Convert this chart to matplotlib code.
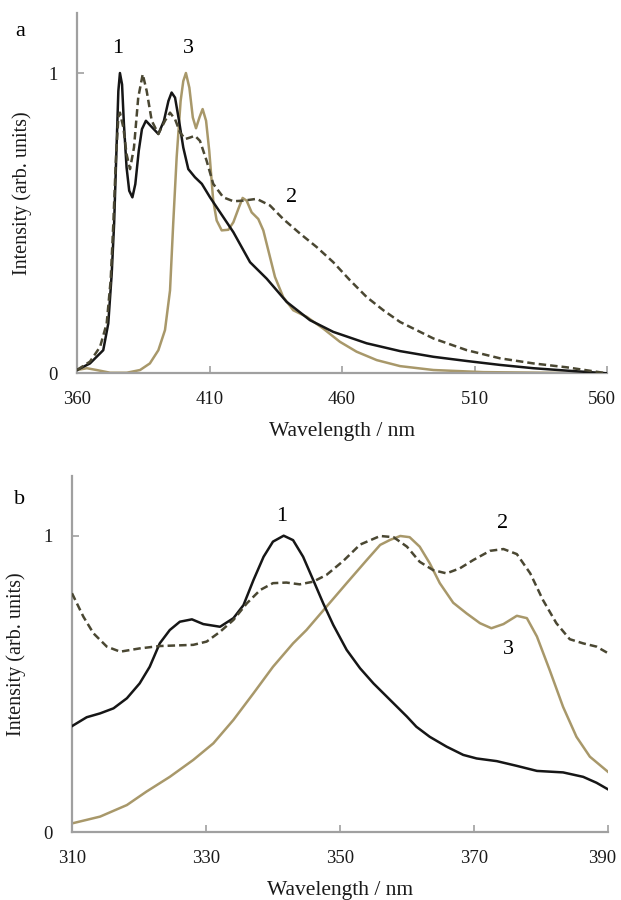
import matplotlib

matplotlib.use("Agg")
import matplotlib.pyplot as plt
from matplotlib.transforms import ScaledTranslation

# panel a: emission spectra (wavelength nm, normalised intensity)
a1_wl = [360, 364.9, 369.9, 371.8, 373.1, 374.0, 375.0, 375.6, 376.2, 377.0, 377.7, 378.7, 379.7, 380.9,
         382.0, 383.3, 384.5, 386.0, 387.8, 390.7, 392.8, 394.5, 395.7, 397.0, 398.5, 400.1, 402.0, 404.5,
         407.1, 410.2, 414.0, 419.0, 425.3, 431.6, 439.1, 447.9, 456.7, 469.3, 481.9, 494.5, 507.1, 519.6,
         532.2, 544.8, 560]
a1_int = [0.011, 0.033, 0.077, 0.166, 0.332, 0.498, 0.774, 0.940, 1.0, 0.962, 0.83, 0.686, 0.608, 0.586,
          0.63, 0.741, 0.813, 0.841, 0.824, 0.797, 0.841, 0.907, 0.935, 0.918, 0.841, 0.752, 0.68, 0.653,
          0.631, 0.586, 0.536, 0.47, 0.37, 0.315, 0.238, 0.177, 0.138, 0.10, 0.074, 0.055, 0.041, 0.028,
          0.017, 0.009, 0.0]

a2_wl = [360, 364.9, 368.7, 371.2, 372.7, 373.7, 374.7, 375.6, 376.2, 377.5, 378.7, 380.0, 381.5, 383.1,
         384.8, 386.3, 388.2, 390.7, 393.2, 395.1, 397.0, 398.9, 400.8, 402.6, 404.5, 406.4, 408.9, 411.4,
         415.2, 419.0, 422.8, 427.8, 432.8, 437.8, 444.2, 450.5, 456.7, 463.0, 469.3, 475.6, 481.9, 494.5,
         507.1, 519.6, 532.2, 544.8, 560]
a2_int = [0.011, 0.039, 0.088, 0.166, 0.31, 0.498, 0.719, 0.852, 0.868, 0.818, 0.73, 0.68, 0.752, 0.918,
          0.996, 0.94, 0.841, 0.797, 0.841, 0.868, 0.846, 0.802, 0.78, 0.785, 0.791, 0.774, 0.708, 0.631,
          0.586, 0.573, 0.575, 0.581, 0.559, 0.514, 0.465, 0.42, 0.37, 0.31, 0.254, 0.21, 0.171, 0.116,
          0.077, 0.05, 0.033, 0.02, 0.0]

a3_wl = [360, 363.7, 367.4, 372.5, 378.8, 383.8, 387.5, 390.7, 393.2, 395.1, 396.3, 397.6, 399.1, 400.1,
         401.1, 402.4, 403.7, 404.9, 406.2, 407.4, 408.7, 409.9, 411.4, 412.7, 414.6, 417.1, 419.0, 420.9,
         422.5, 424.0, 425.9, 428.4, 430.3, 432.2, 434.7, 437.8, 441.6, 446.7, 452.9, 459.2, 465.5, 473.1,
         481.9, 494.5, 513.3, 560]
a3_int = [0.011, 0.017, 0.011, 0.002, 0.002, 0.011, 0.033, 0.077, 0.144, 0.276, 0.498, 0.719, 0.907, 0.973,
          1.0, 0.951, 0.852, 0.816, 0.852, 0.88, 0.841, 0.741, 0.575, 0.509, 0.476, 0.478, 0.503, 0.548,
          0.584, 0.575, 0.536, 0.514, 0.476, 0.409, 0.321, 0.254, 0.21, 0.188, 0.149, 0.105, 0.072, 0.044,
          0.024, 0.011, 0.004, 0.0]

# panel b: excitation spectra
b1_wl = [310, 312.2, 314.2, 316.2, 318.2, 320.1, 321.6, 323.1, 324.6, 326.1, 327.9, 329.6, 332.1, 334.1,
         335.6, 337.1, 338.6, 340.0, 341.6, 343.0, 344.5, 346.0, 347.5, 349.0, 351.0, 353.0, 355.0, 357.5,
         360.0, 361.4, 363.4, 365.9, 368.4, 370.4, 373.4, 376.4, 379.4, 383.3, 386.3, 388.3, 390]
b1_int = [0.358, 0.388, 0.401, 0.418, 0.452, 0.502, 0.558, 0.637, 0.682, 0.71, 0.718, 0.702, 0.693, 0.722,
          0.766, 0.851, 0.929, 0.98, 1.0, 0.985, 0.929, 0.851, 0.772, 0.699, 0.615, 0.553, 0.502, 0.446,
          0.39, 0.356, 0.322, 0.289, 0.261, 0.249, 0.24, 0.224, 0.207, 0.202, 0.187, 0.167, 0.145]

b2_wl = [310, 311.7, 313.2, 315.2, 317.2, 320.1, 323.1, 328.1, 330.1, 332.1, 334.1, 336.1, 338.1, 340.0,
         342.0, 344.0, 346.0, 348.0, 350.5, 353.0, 356.0, 358.0, 360.0, 361.9, 363.9, 365.9, 367.9, 369.9,
         372.4, 374.4, 376.4, 378.4, 380.3, 382.3, 384.3, 386.3, 388.3, 390]
b2_int = [0.806, 0.727, 0.671, 0.626, 0.609, 0.62, 0.628, 0.632, 0.643, 0.676, 0.716, 0.772, 0.817, 0.84,
          0.842, 0.836, 0.845, 0.868, 0.915, 0.97, 0.999, 0.995, 0.963, 0.912, 0.884, 0.873, 0.89, 0.918,
          0.949, 0.955, 0.938, 0.873, 0.783, 0.705, 0.651, 0.637, 0.626, 0.604]

b3_wl = [310, 314.2, 318.2, 321.1, 324.6, 328.1, 331.1, 334.1, 337.1, 340.0, 343.0, 345.0, 348.0, 351.0,
         354.0, 356.0, 357.5, 359.0, 360.4, 361.9, 363.4, 364.9, 366.9, 368.9, 370.9, 372.6, 374.4, 376.4,
         377.9, 379.4, 381.3, 383.3, 385.3, 387.3, 390]
b3_int = [0.03, 0.053, 0.092, 0.137, 0.187, 0.244, 0.30, 0.379, 0.469, 0.558, 0.637, 0.682, 0.761, 0.84,
          0.918, 0.969, 0.986, 0.999, 0.995, 0.963, 0.907, 0.84, 0.774, 0.738, 0.705, 0.688, 0.702, 0.73,
          0.722, 0.66, 0.547, 0.423, 0.322, 0.255, 0.204]

C_BLACK = "#161616"
C_DASH = "#4a4732"
C_TAN = "#a8986a"
C_AXIS = "#a0a0a0"

plt.rcParams["font.family"] = ["Liberation Serif", "DejaVu Serif"]

fig = plt.figure(figsize=(6.21, 9.0), dpi=100)
ax_a = fig.add_axes([0.124, 0.5852, 0.8535, 0.4004])
ax_b = fig.add_axes([0.1159, 0.0752, 0.8631, 0.3955])


def style_axis(ax, xlim, xticks):
    ax.set_xlim(*xlim)
    ax.set_ylim(0, 1.2)
    ax.set_xticks(xticks)
    ax.set_yticks([0, 1])
    ax.set_yticklabels(["0", "1"])
    for side in ("top", "right"):
        ax.spines[side].set_visible(False)
    for side in ("left", "bottom"):
        ax.spines[side].set_color(C_AXIS)
        ax.spines[side].set_linewidth(1.6)
    ax.tick_params(axis="both", direction="in", length=5, width=1.2,
                   color=C_AXIS, labelsize=13.5, labelcolor="#1a1a1a")
    ax.tick_params(axis="x", pad=13)
    ax.tick_params(axis="y", pad=14)
    ax.set_xlabel("Wavelength / nm", fontsize=15.5, labelpad=10, color="#1a1a1a")
    ax.set_ylabel("Intensity (arb. units)", fontsize=14.5, labelpad=12, color="#1a1a1a")
    # last x label sits flush with the figure edge
    last = ax.get_xticklabels()[-1]
    last.set_transform(last.get_transform() + ScaledTranslation(-4 / 72, 0, fig.dpi_scale_trans))


ax_a.plot(a3_wl, a3_int, color=C_TAN, lw=1.8, zorder=2)
ax_a.plot(a1_wl, a1_int, color=C_BLACK, lw=1.8, zorder=3)
ax_a.plot(a2_wl, a2_int, color=C_DASH, lw=1.8, ls=(0, (3, 1.6)), zorder=4)
style_axis(ax_a, (360, 560), [360, 410, 460, 510, 560])
ax_a.text(375.5, 1.083, "1", fontsize=16, ha="center", va="center")
ax_a.text(401.9, 1.083, "3", fontsize=16, ha="center", va="center")
ax_a.text(441.1, 0.585, "2", fontsize=16, ha="center", va="center")
fig.text(20 / 621, 1 - 32 / 900, "a", fontsize=16, ha="center", va="center")

ax_b.plot(b3_wl, b3_int, color=C_TAN, lw=1.8, zorder=2)
ax_b.plot(b1_wl, b1_int, color=C_BLACK, lw=1.8, zorder=3)
ax_b.plot(b2_wl, b2_int, color=C_DASH, lw=1.8, ls=(0, (3, 1.6)), zorder=4)
style_axis(ax_b, (310, 390), [310, 330, 350, 370, 390])
ax_b.text(341.3, 1.066, "1", fontsize=16, ha="center", va="center")
ax_b.text(374.3, 1.04, "2", fontsize=16, ha="center", va="center")
ax_b.text(375.1, 0.615, "3", fontsize=16, ha="center", va="center")
fig.text(20 / 621, 1 - 500 / 900, "b", fontsize=16, ha="center", va="center")

fig.savefig("out.png", dpi=100, facecolor="white")
